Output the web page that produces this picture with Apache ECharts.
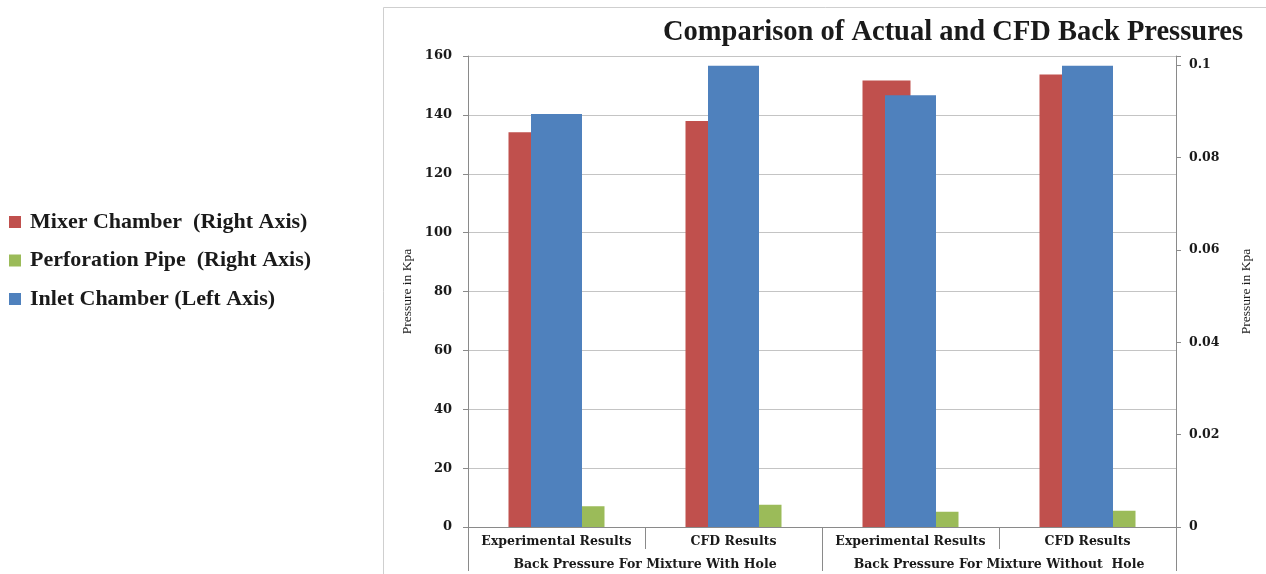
<!DOCTYPE html>
<html>
<head>
<meta charset="utf-8">
<style>
  html, body { margin: 0; padding: 0; background: #ffffff; }
  #chart { width: 1266px; height: 574px; }
</style>
<script src="https://cdn.jsdelivr.net/npm/echarts@6/dist/echarts.min.js"></script>
</head>
<body>
<div id="chart"></div>
<script>
// Category labels (first row) and group labels (second row)
const categories = ['Experimental Results', 'CFD Results', 'Experimental Results', 'CFD Results'];
const groupLabels = ['Back Pressure For Mixture With Hole', 'Back Pressure For Mixture Without  Hole'];

// Series values
const mixerChamber = [0.0855, 0.0879, 0.0967, 0.0980];      // right axis
const perforationPipe = [0.0045, 0.0048, 0.0033, 0.0035];   // right axis
const inletChamber = [140.3, 156.7, 146.7, 156.7];          // left axis

const seriesNames = ['Mixer Chamber  (Right Axis)', 'Perforation Pipe  (Right Axis)', 'Inlet Chamber (Left Axis)'];

const serifBold = { fontFamily: 'DejaVu Serif', fontWeight: 'bold', color: '#1a1a1a' };
const axisGray = '#8a8a8a';
const gridGray = '#c4c4c4';

const chart = echarts.init(document.getElementById('chart'), null, { renderer: 'canvas' });

chart.setOption({
  animation: false,
  backgroundColor: '#ffffff',
  color: ['#C0504D', '#9BBB59', '#4F81BD'],
  title: {
    text: 'Comparison of Actual and CFD Back Pressures',
    left: 948,
    top: 13,
    textAlign: 'center',
    textStyle: { fontFamily: 'Liberation Serif', fontWeight: 'bold', fontSize: 28.5, color: '#1a1a1a' }
  },
  legend: {
    data: seriesNames,
    orient: 'vertical',
    left: 4,
    top: 206,
    itemWidth: 12,
    itemHeight: 12,
    itemGap: 16.5,
    icon: 'rect',
    textStyle: {
      fontFamily: 'Liberation Serif', fontWeight: 'bold', fontSize: 22, color: '#1a1a1a',
      lineHeight: 22, padding: [0, 0, 0, 4]
    }
  },
  graphic: [{
    type: 'rect',
    shape: { x: 383.5, y: 7.5, width: 1000, height: 1000 },
    style: { fill: 'none', stroke: '#cfcfcf', lineWidth: 1 },
    silent: true,
    z: -1
  }],
  grid: { left: 468, right: 90, top: 56, bottom: 47, containLabel: false },
  xAxis: [
    {
      type: 'category',
      data: categories,
      position: 'bottom',
      axisLine: { show: true, onZero: false, lineStyle: { color: axisGray } },
      axisTick: { show: true, length: 22, interval: 0, alignWithLabel: false, lineStyle: { color: axisGray } },
      axisLabel: { interval: 0, margin: 8, fontSize: 12.5, ...serifBold },
      splitLine: { show: false }
    },
    {
      type: 'category',
      data: categories,
      position: 'bottom',
      show: false
    },
    {
      type: 'category',
      data: groupLabels,
      position: 'bottom',
      offset: 22,
      axisLine: { show: false, onZero: false },
      axisTick: { show: true, length: 22, interval: 0, alignWithLabel: false, lineStyle: { color: axisGray } },
      axisLabel: { interval: 0, margin: 9, fontSize: 12.5, ...serifBold },
      splitLine: { show: false }
    }
  ],
  yAxis: [
    {
      type: 'value',
      position: 'left',
      min: 0,
      max: 160,
      interval: 20,
      name: 'Pressure in Kpa',
      nameLocation: 'middle',
      nameGap: 46,
      nameTextStyle: { fontFamily: 'Liberation Serif', fontSize: 13.5, color: '#1a1a1a' },
      axisLine: { show: true, lineStyle: { color: axisGray } },
      axisTick: { show: true, length: 5, lineStyle: { color: axisGray } },
      axisLabel: { margin: 16, fontSize: 13, ...serifBold },
      splitLine: { show: true, lineStyle: { color: gridGray } }
    },
    {
      type: 'value',
      position: 'right',
      min: 0,
      max: 0.102,
      interval: 0.02,
      name: 'Pressure in Kpa',
      nameLocation: 'middle',
      nameGap: 63,
      nameTextStyle: { fontFamily: 'Liberation Serif', fontSize: 13.5, color: '#1a1a1a' },
      axisLine: { show: true, lineStyle: { color: axisGray } },
      axisTick: { show: true, length: 5, lineStyle: { color: axisGray } },
      axisLabel: {
        margin: 13, fontSize: 12.5, ...serifBold,
        formatter: function (v) {
          const k = v / 0.02;
          if (Math.abs(k - Math.round(k)) > 1e-6) return '';
          return String(parseFloat(v.toFixed(3)));
        }
      },
      splitLine: { show: false }
    }
  ],
  series: [
    {
      name: seriesNames[0],
      type: 'bar',
      xAxisIndex: 0,
      yAxisIndex: 1,
      data: mixerChamber,
      barWidth: 48,
      barGap: '0%',
      z: 2
    },
    {
      name: seriesNames[1],
      type: 'bar',
      xAxisIndex: 0,
      yAxisIndex: 1,
      data: perforationPipe,
      barWidth: 48,
      barGap: '0%',
      z: 2
    },
    {
      name: seriesNames[2],
      type: 'bar',
      xAxisIndex: 1,
      yAxisIndex: 0,
      data: inletChamber,
      barWidth: 51,
      z: 3
    }
  ]
});
</script>
</body>
</html>
